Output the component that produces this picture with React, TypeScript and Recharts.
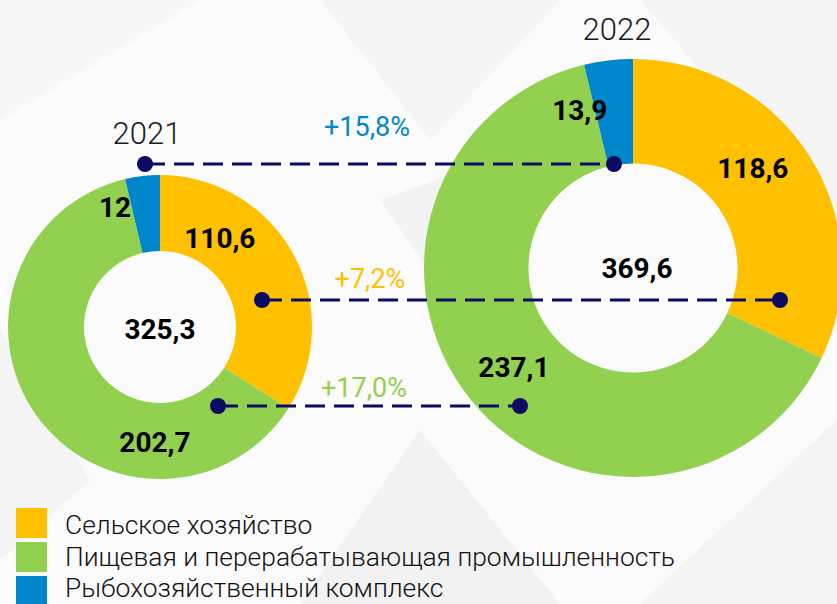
import React from 'react';
import { PieChart, Pie, Cell } from 'recharts';

const categories = [
  'Сельское хозяйство',
  'Пищевая и перерабатывающая промышленность',
  'Рыбохозяйственный комплекс',
];
const years = ['2021', '2022'];
const values2021 = [110.6, 202.7, 12];
const values2022 = [118.6, 237.1, 13.9];
const colors = ['#FFC000', '#92D050', '#0086CB'];

const W = 837;
const H = 604;
const FONT = 'Roboto, "Noto Sans", sans-serif';
const LINE = '#0B0B62';

const data2021 = categories.map((name, i) => ({ name, value: values2021[i] }));
const data2022 = categories.map((name, i) => ({ name, value: values2022[i] }));

const fmt = (v: number) => String(Math.round(v * 10) / 10).replace('.', ',');
const total = (arr: number[]) => arr.reduce((a, b) => a + b, 0);
const growth = (a: number, b: number) => {
  const g = (b / a - 1) * 100;
  return '+' + g.toFixed(1).replace('.', ',') + '%';
};

// layout
const pieL = { cx: 160, cy: 327, inner: 76, outer: 152 };
const pieR = { cx: 633, cy: 268, inner: 104.5, outer: 209 };
const placeL = [
  { a: 56, r: 107 },
  { a: -92.5, r: 116 },
  { a: 110.6, r: 128 },
];
const placeR = [
  { a: 39.8, r: 156 },
  { a: -140.2, r: 155 },
  { a: 108.7, r: 166 },
];
const connectors = [
  { idx: 2, x1: 145, x2: 614, y: 164, tx: 367, ty: 136 },
  { idx: 0, x1: 262, x2: 780, y: 300, tx: 370, ty: 288 },
  { idx: 1, x1: 218, x2: 520, y: 406, tx: 364, ty: 397 },
];
const legendLayout = { x: 16, squareTop: 508, squareStep: 34, squareW: 31, squareH: 30, textX: 65, textBase: 534, textStep: 31.5 };

const makeLabel = (place: { a: number; r: number }[]) => (props: any) => {
  const { cx, cy, index, value } = props;
  const p = place[index];
  const rad = (p.a * Math.PI) / 180;
  const x = cx + p.r * Math.cos(rad);
  const y = cy - p.r * Math.sin(rad);
  return (
    <text
      x={x}
      y={y}
      textAnchor="middle"
      dominantBaseline="central"
      fontFamily={FONT}
      fontWeight={700}
      fontSize={28}
      fill="#000"
    >
      {fmt(value)}
    </text>
  );
};

export default function App() {
  const L = legendLayout;
  return (
    <div
      style={{
        position: 'fixed',
        left: 0,
        top: 0,
        width: W,
        height: H,
        background: '#fbfbfb',
        overflow: 'hidden',
        fontFamily: FONT,
      }}
    >
      <svg width={W} height={H} style={{ position: 'absolute', left: 0, top: 0 }}>
        <polygon points="320,0 560,0 430,140" fill="#f5f5f5" />
        <polygon points="640,0 837,0 837,230" fill="#f5f5f5" />
        <polygon points="0,0 200,0 0,120" fill="#f7f7f7" />
        <polygon points="380,200 520,150 470,330" fill="#f3f3f3" />
        <polygon points="0,330 90,480 0,560" fill="#f4f4f4" />
        <polygon points="300,604 420,430 560,604" fill="#f2f2f2" />
        <polygon points="640,604 837,420 837,604" fill="#f4f4f4" />
      </svg>
      <div style={{ position: 'absolute', left: 0, top: 0 }}>
        <PieChart width={W} height={H} margin={{ top: 0, right: 0, bottom: 0, left: 0 }}>
          <Pie
            data={data2021}
            dataKey="value"
            cx={pieL.cx}
            cy={pieL.cy}
            innerRadius={pieL.inner}
            outerRadius={pieL.outer}
            startAngle={90}
            endAngle={-270}
            stroke="none"
            isAnimationActive={false}
            labelLine={false}
            label={makeLabel(placeL)}
          >
            {data2021.map((d, i) => (
              <Cell key={d.name} fill={colors[i]} />
            ))}
          </Pie>
          <Pie
            data={data2022}
            dataKey="value"
            cx={pieR.cx}
            cy={pieR.cy}
            innerRadius={pieR.inner}
            outerRadius={pieR.outer}
            startAngle={90}
            endAngle={-270}
            stroke="none"
            isAnimationActive={false}
            labelLine={false}
            label={makeLabel(placeR)}
          >
            {data2022.map((d, i) => (
              <Cell key={d.name} fill={colors[i]} />
            ))}
          </Pie>
        </PieChart>
      </div>
      <svg width={W} height={H} style={{ position: 'absolute', left: 0, top: 0 }}>
        <text x={pieL.cx} y={pieL.cy + 2} textAnchor="middle" dominantBaseline="central"
          fontFamily={FONT} fontWeight={700} fontSize={28} fill="#000">
          {fmt(total(values2021))}
        </text>
        <text x={pieR.cx + 4} y={pieR.cy} textAnchor="middle" dominantBaseline="central"
          fontFamily={FONT} fontWeight={700} fontSize={28} fill="#000">
          {fmt(total(values2022))}
        </text>
        <text x={147} y={144} textAnchor="middle" fontFamily={FONT} fontWeight={300}
          fontSize={31} fill="#1a1a1a">
          {years[0]}
        </text>
        <text x={617} y={40} textAnchor="middle" fontFamily={FONT} fontWeight={300}
          fontSize={31} fill="#1a1a1a">
          {years[1]}
        </text>
        {connectors.map((c) => (
          <g key={c.idx}>
            <line x1={c.x1} y1={c.y} x2={c.x2} y2={c.y} stroke={LINE} strokeWidth={3}
              strokeDasharray="20 9" />
            <circle cx={c.x1} cy={c.y} r={8} fill={LINE} />
            <circle cx={c.x2} cy={c.y} r={8} fill={LINE} />
            <text x={c.tx} y={c.ty} textAnchor="middle" fontFamily={FONT} fontWeight={400}
              fontSize={27} fill={colors[c.idx]}>
              {growth(values2021[c.idx], values2022[c.idx])}
            </text>
          </g>
        ))}
        {categories.map((name, i) => (
          <g key={name}>
            <rect x={L.x} y={L.squareTop + i * L.squareStep} width={L.squareW} height={L.squareH}
              fill={colors[i]} />
            <text x={L.textX} y={L.textBase + i * L.textStep} fontFamily={FONT} fontWeight={300}
              fontSize={26.4} fill="#111">
              {name}
            </text>
          </g>
        ))}
      </svg>
    </div>
  );
}
